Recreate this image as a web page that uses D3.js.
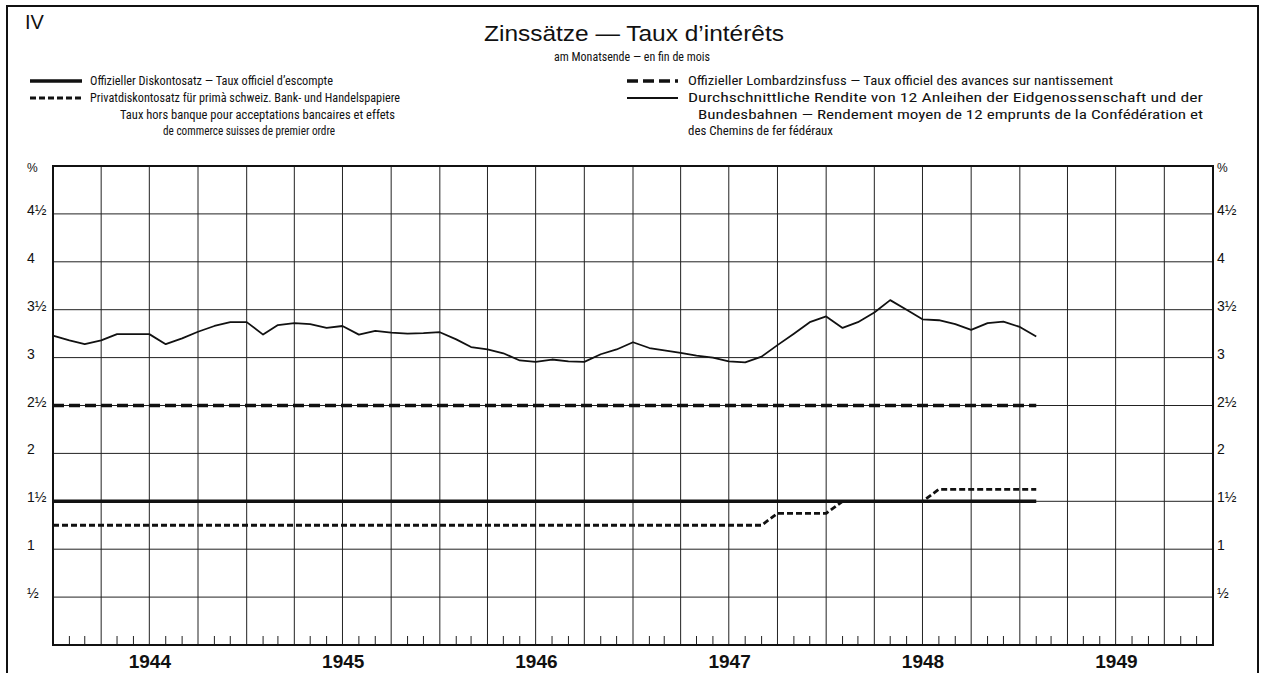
<!DOCTYPE html>
<html>
<head>
<meta charset="utf-8">
<script src="https://cdn.jsdelivr.net/npm/d3@7"></script>
<style>
  html, body { margin: 0; padding: 0; background: #fff; }
  svg { display: block; }
  text { fill: #111; }
</style>
</head>
<body>
<script>
// month-end observations, Dec 1943 .. Jan 1949 (plotted at the end of each month)
var firstMonthEnd = new Date(Date.UTC(1944, 0, 1))
var lastMonthEnd = new Date(Date.UTC(1949, 1, 1))

// Offizieller Diskontosatz
var discountRate = [
  1.5,
  1.5, 1.5, 1.5, 1.5, 1.5, 1.5, 1.5, 1.5, 1.5, 1.5, 1.5, 1.5,
  1.5, 1.5, 1.5, 1.5, 1.5, 1.5, 1.5, 1.5, 1.5, 1.5, 1.5, 1.5,
  1.5, 1.5, 1.5, 1.5, 1.5, 1.5, 1.5, 1.5, 1.5, 1.5, 1.5, 1.5,
  1.5, 1.5, 1.5, 1.5, 1.5, 1.5, 1.5, 1.5, 1.5, 1.5, 1.5, 1.5,
  1.5, 1.5, 1.5, 1.5, 1.5, 1.5, 1.5, 1.5, 1.5, 1.5, 1.5, 1.5,
  1.5
]
// Offizieller Lombardzinsfuss
var lombardRate = [
  2.5,
  2.5, 2.5, 2.5, 2.5, 2.5, 2.5, 2.5, 2.5, 2.5, 2.5, 2.5, 2.5,
  2.5, 2.5, 2.5, 2.5, 2.5, 2.5, 2.5, 2.5, 2.5, 2.5, 2.5, 2.5,
  2.5, 2.5, 2.5, 2.5, 2.5, 2.5, 2.5, 2.5, 2.5, 2.5, 2.5, 2.5,
  2.5, 2.5, 2.5, 2.5, 2.5, 2.5, 2.5, 2.5, 2.5, 2.5, 2.5, 2.5,
  2.5, 2.5, 2.5, 2.5, 2.5, 2.5, 2.5, 2.5, 2.5, 2.5, 2.5, 2.5,
  2.5
]
// Privatdiskontosatz
var privateRate = [
  1.25,
  1.25, 1.25, 1.25, 1.25, 1.25, 1.25, 1.25, 1.25, 1.25, 1.25, 1.25, 1.25,
  1.25, 1.25, 1.25, 1.25, 1.25, 1.25, 1.25, 1.25, 1.25, 1.25, 1.25, 1.25,
  1.25, 1.25, 1.25, 1.25, 1.25, 1.25, 1.25, 1.25, 1.25, 1.25, 1.25, 1.25,
  1.25, 1.25, 1.25, 1.25, 1.25, 1.25, 1.25, 1.25, 1.375, 1.375, 1.375, 1.375,
  1.5, 1.5, 1.5, 1.5, 1.5, 1.5, 1.625, 1.625, 1.625, 1.625, 1.625, 1.625,
  1.625
]
// Durchschnittliche Rendite von 12 Anleihen
var bondYield = [
  3.23,
  3.18, 3.14, 3.18, 3.245, 3.245, 3.245, 3.14, 3.20, 3.27, 3.33, 3.37, 3.37,
  3.24, 3.34, 3.36, 3.35, 3.31, 3.33, 3.24, 3.28, 3.26, 3.25, 3.255, 3.265,
  3.19, 3.11, 3.085, 3.045, 2.97, 2.955, 2.98, 2.96, 2.955, 3.035, 3.085, 3.16,
  3.10, 3.075, 3.05, 3.02, 3.00, 2.96, 2.95, 3.01, 3.13, 3.25, 3.37, 3.43,
  3.31, 3.37, 3.47, 3.60, 3.50, 3.40, 3.39, 3.35, 3.29, 3.36, 3.375, 3.32,
  3.22
]

var yearLabels = ['1944', '1945', '1946', '1947', '1948', '1949']
var yTickValues = [0.5, 1, 1.5, 2, 2.5, 3, 3.5, 4, 4.5]
var yTickLabels = ['½', '1', '1½', '2', '2½', '3', '3½', '4', '4½']

var width = 1268
var height = 673
var sans = "'Liberation Sans', Arial, sans-serif"
var narrow = "'Liberation Sans Narrow', 'Roboto Condensed', 'DejaVu Sans Condensed', 'Liberation Sans', sans-serif"

var svg = d3.select('body').append('svg')
  .attr('width', width)
  .attr('height', height)

var x = d3.scaleUtc()
  .domain([new Date(Date.UTC(1944, 0, 1)), new Date(Date.UTC(1950, 0, 1))])
  .range([53, 1213])

var y = d3.scaleLinear()
  .domain([0, 5])
  .range([645, 166])

var monthEnds = d3.utcMonth.range(firstMonthEnd, d3.utcMonth.offset(lastMonthEnd, 1))

// outer frame
svg.append('path')
  .attr('d', 'M7,' + (height + 5) + 'V6H1258V' + (height + 5))
  .attr('fill', 'none')
  .attr('stroke', '#111')
  .attr('stroke-width', 2)

// header
svg.append('text')
  .attr('x', 25).attr('y', 29)
  .style('font-family', sans)
  .style('font-size', '20px')
  .text('IV')

svg.append('text')
  .attr('x', 634).attr('y', 41)
  .attr('text-anchor', 'middle')
  .attr('textLength', 300)
  .attr('lengthAdjust', 'spacingAndGlyphs')
  .style('font-family', sans)
  .style('font-size', '22px')
  .text('Zinssätze — Taux d\u2019intérêts')

svg.append('text')
  .attr('x', 632).attr('y', 61)
  .attr('text-anchor', 'middle')
  .attr('textLength', 156)
  .attr('lengthAdjust', 'spacingAndGlyphs')
  .style('font-family', narrow)
  .style('font-size', '12px')
  .text('am Monatsende — en fin de mois')

// legend
var legendRows = [
  { x: 90, y: 85, w: 243, text: 'Offizieller Diskontosatz — Taux officiel d\u2019escompte' },
  { x: 90, y: 102, w: 310, text: 'Privatdiskontosatz für primà schweiz. Bank- und Handelspapiere' },
  { x: 120, y: 119, w: 275, text: 'Taux hors banque pour acceptations bancaires et effets' },
  { x: 163, y: 135, w: 172, text: 'de commerce suisses de premier ordre' },
  { x: 688, y: 85, w: 425, text: 'Offizieller Lombardzinsfuss — Taux officiel des avances sur nantissement' },
  { x: 688, y: 102, w: 515, text: 'Durchschnittliche Rendite von 12 Anleihen der Eidgenossenschaft und der' },
  { x: 698, y: 119, w: 505, text: 'Bundesbahnen — Rendement moyen de 12 emprunts de la Confédération et' },
  { x: 688, y: 135, w: 145, text: 'des Chemins de fer fédéraux' }
]
svg.append('g').selectAll('text')
  .data(legendRows)
  .join('text')
  .attr('x', function (d) { return d.x })
  .attr('y', function (d) { return d.y })
  .attr('textLength', function (d) { return d.w })
  .attr('lengthAdjust', 'spacingAndGlyphs')
  .style('font-family', narrow)
  .style('font-size', '12.5px')
  .text(function (d) { return d.text })

var styles = {
  discount: { width: 3.4, dash: null },
  lombard: { width: 3.4, dash: '11,5' },
  priv: { width: 2.8, dash: '6,3' },
  bond: { width: 1.8, dash: null }
}
var samples = [
  { x1: 30, x2: 82, y: 81, s: styles.discount },
  { x1: 30, x2: 82, y: 98, s: styles.priv },
  { x1: 627, x2: 678, y: 81, s: styles.lombard },
  { x1: 627, x2: 678, y: 98, s: styles.bond }
]
svg.append('g').selectAll('line')
  .data(samples)
  .join('line')
  .attr('x1', function (d) { return d.x1 })
  .attr('x2', function (d) { return d.x2 })
  .attr('y1', function (d) { return d.y })
  .attr('y2', function (d) { return d.y })
  .attr('stroke', '#111')
  .attr('stroke-width', function (d) { return d.s.width })
  .attr('stroke-dasharray', function (d) { return d.s.dash })

// grid
var grid = svg.append('g')
grid.selectAll('line.h')
  .data(yTickValues)
  .join('line')
  .attr('class', 'h')
  .attr('x1', x.range()[0]).attr('x2', x.range()[1])
  .attr('y1', function (d) { return y(d) })
  .attr('y2', function (d) { return y(d) })
  .attr('stroke', '#222')
  .attr('stroke-width', 1)

var quarterLines = d3.utcMonth.every(3).range(x.domain()[0], x.domain()[1]).slice(1)
grid.selectAll('line.v')
  .data(quarterLines)
  .join('line')
  .attr('class', 'v')
  .attr('x1', function (d) { return x(d) })
  .attr('x2', function (d) { return x(d) })
  .attr('y1', y(5)).attr('y2', y(0))
  .attr('stroke', '#222')
  .attr('stroke-width', 1)

// monthly ticks along the bottom
var monthTicks = d3.utcMonth.range(x.domain()[0], x.domain()[1])
  .filter(function (d) { return d.getUTCMonth() % 3 !== 0 })
grid.selectAll('line.t')
  .data(monthTicks)
  .join('line')
  .attr('class', 't')
  .attr('x1', function (d) { return x(d) })
  .attr('x2', function (d) { return x(d) })
  .attr('y1', y(0)).attr('y2', y(0) - 9)
  .attr('stroke', '#222')
  .attr('stroke-width', 1)

// plot frame
svg.append('rect')
  .attr('x', x.range()[0]).attr('y', y(5))
  .attr('width', x.range()[1] - x.range()[0])
  .attr('height', y(0) - y(5))
  .attr('fill', 'none')
  .attr('stroke', '#111')
  .attr('stroke-width', 2)

// y labels both sides
var yLabelData = yTickValues.map(function (v, i) { return { v: v, label: yTickLabels[i] } })
function drawYLabels (xPos, anchor) {
  svg.append('g').selectAll('text')
    .data(yLabelData)
    .join('text')
    .attr('x', xPos)
    .attr('y', function (d) { return y(d.v) + 1 })
    .attr('text-anchor', anchor)
    .style('font-family', sans)
    .style('font-size', '14px')
    .text(function (d) { return d.label })
  svg.append('text')
    .attr('x', xPos).attr('y', y(5) + 6)
    .attr('text-anchor', anchor)
    .style('font-family', sans)
    .style('font-size', '12px')
    .text('%')
}
drawYLabels(27, 'start')
drawYLabels(1217, 'start')

// year labels
svg.append('g').selectAll('text')
  .data(yearLabels)
  .join('text')
  .attr('x', function (d) {
    var yr = +d
    return (x(new Date(Date.UTC(yr, 0, 1))) + x(new Date(Date.UTC(yr + 1, 0, 1)))) / 2
  })
  .attr('y', 668)
  .attr('text-anchor', 'middle')
  .style('font-family', sans)
  .style('font-size', '19px')
  .style('font-weight', 'bold')
  .text(function (d) { return d })

// series
var series = [
  { values: lombardRate, s: styles.lombard },
  { values: discountRate, s: styles.discount },
  { values: privateRate, s: styles.priv },
  { values: bondYield, s: styles.bond }
]
var line = d3.line()
  .x(function (d) { return x(d.date) })
  .y(function (d) { return y(d.value) })

svg.append('g').selectAll('path')
  .data(series)
  .join('path')
  .attr('d', function (d) {
    return line(d.values.map(function (v, i) { return { date: monthEnds[i], value: v } }))
  })
  .attr('fill', 'none')
  .attr('stroke', '#111')
  .attr('stroke-linejoin', 'round')
  .attr('stroke-width', function (d) { return d.s.width })
  .attr('stroke-dasharray', function (d) { return d.s.dash })
</script>
</body>
</html>
